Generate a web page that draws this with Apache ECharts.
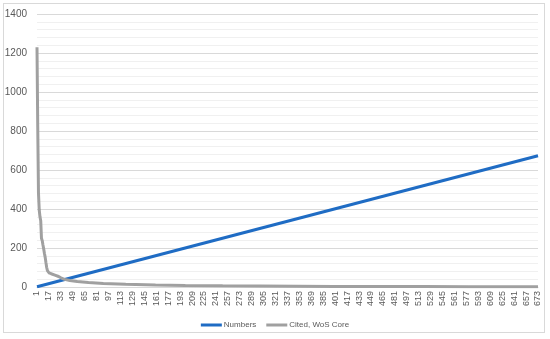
<!DOCTYPE html>
<html>
<head>
<meta charset="utf-8">
<script src="https://cdn.jsdelivr.net/npm/echarts@6/dist/echarts.min.js"></script>
<style>
  html, body { margin: 0; padding: 0; background: #fff; }
  #frame { position: absolute; left: 3px; top: 3px; width: 542px; height: 330px; border: 1px solid #d9d9d9; box-sizing: border-box; }
  #chart { position: absolute; left: 0; top: 0; width: 550px; height: 339px; }
</style>
</head>
<body>
<div id="frame"></div>
<div id="chart"></div>
<script>
  // x categories: paper rank 1..673
  const categories = Array.from({ length: 673 }, (_, i) => String(i + 1));

  const numbersPoints = [[0, 1], [672, 673]];

  // "Cited, WoS Core" [categoryIndex, value]
  const citedPoints = [
    [0, 1230], [1, 820], [2, 480], [3, 395], [4, 360], [5, 340], [6, 250], [7, 238],
    [8, 215], [9, 195], [10, 172], [11, 152], [12, 125], [13, 100], [14, 84], [15, 77],
    [16, 73], [19, 68], [24, 61], [29, 54], [32, 47], [37, 39], [44, 33], [54, 28],
    [69, 23], [89, 18], [119, 14], [159, 10], [199, 8], [249, 6], [299, 5], [349, 4],
    [399, 3], [449, 2], [519, 2], [579, 1], [672, 1]
  ];

  const yTicks = { min: 0, max: 1400, interval: 200 };

  const chart = echarts.init(document.getElementById('chart'));

  chart.setOption({
    animation: false,
    grid: { left: 37, right: 12, top: 14, bottom: 52 },
    legend: {
      left: 'center',
      top: 316,
      itemWidth: 21,
      itemHeight: 3,
      itemGap: 10,
      icon: 'rect',
      textStyle: { color: '#595959', fontSize: 8, padding: [0, 0, 0, -3], fontFamily: 'Liberation Sans' },
      data: ['Numbers', 'Cited, WoS Core']
    },
    xAxis: {
      type: 'category',
      data: categories,
      boundaryGap: false,
      axisLine: { lineStyle: { color: '#d9d9d9' } },
      axisTick: { show: false },
      axisLabel: {
        interval: 15,
        rotate: 90,
        color: '#595959',
        fontSize: 9,
        margin: 4,
        fontFamily: 'Liberation Sans'
      }
    },
    yAxis: {
      type: 'value',
      min: yTicks.min,
      max: yTicks.max,
      interval: yTicks.interval,
      axisLine: { show: false },
      axisTick: { show: false },
      axisLabel: {
        color: '#595959',
        fontSize: 10,
        margin: 10,
        fontFamily: 'Liberation Sans',
        formatter: v => String(v)
      },
      splitLine: { lineStyle: { color: '#d9d9d9' } },
      minorTick: { show: false, splitNumber: 5 },
      minorSplitLine: { show: true, lineStyle: { color: '#f0f0f0' } }
    },
    series: [
      {
        name: 'Numbers',
        type: 'line',
        data: numbersPoints,
        showSymbol: false,
        lineStyle: { color: '#1f6cc4', width: 3 },
        itemStyle: { color: '#1f6cc4' }
      },
      {
        name: 'Cited, WoS Core',
        type: 'line',
        data: citedPoints,
        showSymbol: false,
        lineStyle: { color: '#a0a0a0', width: 3 },
        itemStyle: { color: '#a0a0a0' }
      }
    ]
  });
</script>
</body>
</html>
